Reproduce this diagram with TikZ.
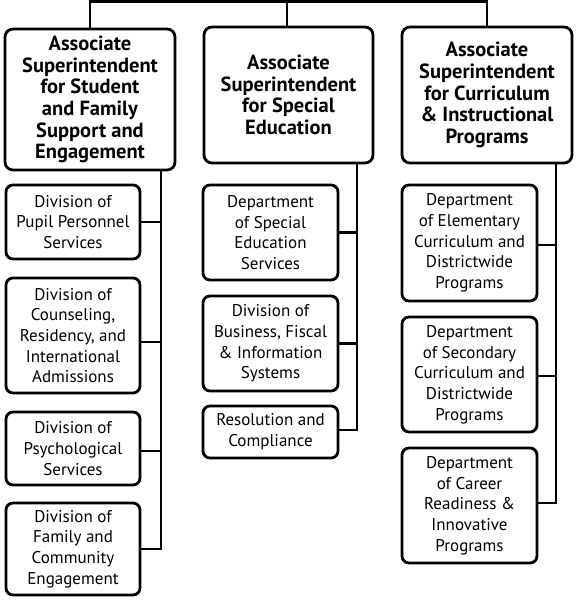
\documentclass[tikz,border=0pt]{standalone}
\usepackage{fontspec}
\setmainfont{PT Sans}
\begin{document}
\begin{tikzpicture}[x=1pt,y=-1pt,
  line width=2.8pt,
  headbox/.style={draw, rounded corners=8pt, align=center, inner sep=0pt,
    font=\fontsize{20.5}{21.7}\selectfont\bfseries},
  subbox/.style={draw, rounded corners=7pt, align=center, inner sep=0pt,
    font=\fontsize{17}{20.7}\selectfont},
  link/.style={line width=2.8pt}]
\useasboundingbox (0,0) rectangle (581,605);
% head boxes
\node[headbox, minimum width=170pt, minimum height=141pt] (h1) at (90,99.5)
  {Associate\\Superintendent\\for Student\\and Family\\Support and\\Engagement};
\node[headbox, minimum width=169pt, minimum height=136pt] (h2) at (288.5,95)
  {Associate\\Superintendent\\for Special\\Education};
\node[headbox, minimum width=170pt, minimum height=136pt] (h3) at (487,95)
  {Associate\\Superintendent\\for Curriculum\\\& Instructional\\Programs};
% left column
\node[subbox, minimum width=134pt, minimum height=74pt] (a1) at (73,222)
  {Division of\\Pupil Personnel\\Services};
\node[subbox, minimum width=134pt, minimum height=115pt] (a2) at (73,335.5)
  {Division of\\Counseling,\\Residency, and\\International\\Admissions};
\node[subbox, minimum width=134pt, minimum height=73pt] (a3) at (73,448.5)
  {Division of\\Psychological\\Services};
\node[subbox, minimum width=134pt, minimum height=92pt] (a4) at (73,549)
  {Division of\\Family and\\Community\\Engagement};
% middle column
\node[subbox, minimum width=135pt, minimum height=95pt] (b1) at (270.5,232.5)
  {Department\\of Special\\Education\\Services};
\node[subbox, minimum width=135pt, minimum height=95pt] (b2) at (270.5,343.5)
  {Division of\\Business, Fiscal\\\& Information\\Systems};
\node[subbox, minimum width=135pt, minimum height=52pt] (b3) at (270.5,432)
  {Resolution and\\Compliance};
% right column
\node[subbox, minimum width=135pt, minimum height=116pt] (c1) at (469.5,243)
  {Department\\of Elementary\\Curriculum and\\Districtwide\\Programs};
\node[subbox, minimum width=135pt, minimum height=115pt] (c2) at (469.5,374.5)
  {Department\\of Secondary\\Curriculum and\\Districtwide\\Programs};
\node[subbox, minimum width=135pt, minimum height=115pt] (c3) at (469.5,505.5)
  {Department\\of Career\\Readiness \&\\Innovative\\Programs};
% top connectors
\coordinate (top) at (287,0);
\draw[link] (h1.north) -- ++(0,-26) -| (h3.north);
\draw[link] (top) -- (top |- h2.north);
% spines
\coordinate (sa) at (161,170);
\coordinate (sb) at (357,163);
\coordinate (sc) at (556,163);
\draw[link] (sa) -- (sa |- a4.east) -- (a4.east);
\draw[link] (a1.east) -- (a1.east -| sa);
\draw[link] ([yshift=-6.5pt]a2.east) -- ([yshift=-6.5pt]a2.east -| sa);
\draw[link] ([yshift=-2.5pt]a3.east) -- ([yshift=-2.5pt]a3.east -| sa);
\draw[link] (sb) -- ([yshift=2pt]sb |- b3.east) -- ([yshift=2pt]b3.east);
\draw[link] (b1.east) -- (b1.east -| sb);
\draw[link] (b2.east) -- (b2.east -| sb);
\draw[link] (sc) -- ([yshift=2.5pt]sc |- c3.east) -- ([yshift=2.5pt]c3.east);
\draw[link] ([yshift=-2pt]c1.east) -- ([yshift=-2pt]c1.east -| sc);
\draw[link] ([yshift=-1.5pt]c2.east) -- ([yshift=-1.5pt]c2.east -| sc);
\end{tikzpicture}
\end{document}
